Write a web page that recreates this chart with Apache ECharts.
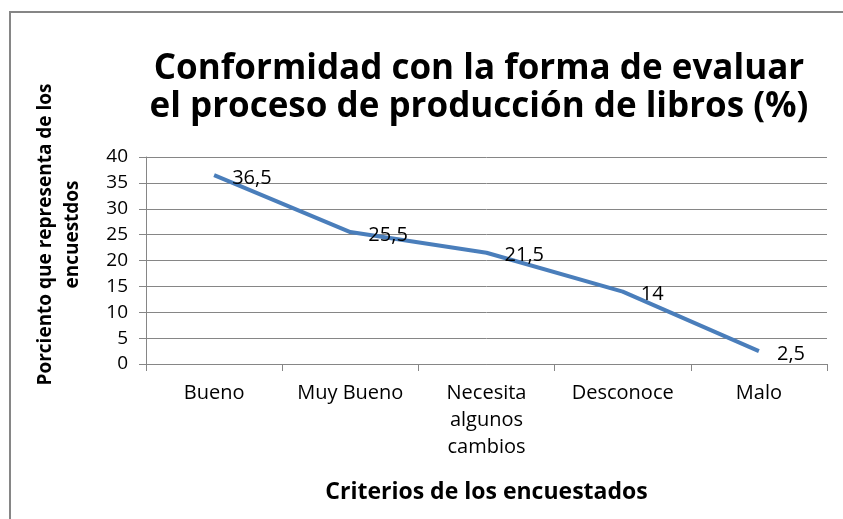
<!DOCTYPE html>
<html>
<head>
<meta charset="utf-8">
<script src="https://cdn.jsdelivr.net/npm/echarts@6/dist/echarts.min.js"></script>
<style>
  html, body { margin: 0; padding: 0; background: #fff; }
  #chart { width: 843px; height: 519px; }
</style>
</head>
<body>
<div id="chart"></div>
<script>
const categories = ['Bueno', 'Muy Bueno', 'Necesita\nalgunos\ncambios', 'Desconoce', 'Malo']
const values = [36.5, 25.5, 21.5, 14, 2.5]
const yTicks = [0, 5, 10, 15, 20, 25, 30, 35, 40]

const FONT = '"Open Sans", "Noto Sans", sans-serif'

const chart = echarts.init(document.getElementById('chart'))

const option = {
  animation: false,
  backgroundColor: '#fff',
  textStyle: { fontFamily: FONT },
  title: {
    text: 'Conformidad con la forma de evaluar\nel proceso de producción de libros (%)',
    left: 474,
    top: 45,
    textAlign: 'center',
    textStyle: {
      fontFamily: FONT,
      fontSize: 35,
      fontWeight: 'bold',
      lineHeight: 38,
      color: '#000'
    }
  },
  graphic: [
    {
      type: 'rect',
      shape: { x: 10, y: 12, width: 900, height: 600 },
      style: { fill: 'none', stroke: '#868686', lineWidth: 2 },
      silent: true
    }
  ],
  grid: {
    left: 146,
    right: 16,
    top: 157,
    bottom: 155
  },
  xAxis: {
    type: 'category',
    data: categories,
    boundaryGap: true,
    name: 'Criterios de los encuestados',
    nameLocation: 'middle',
    nameGap: 117,
    nameTextStyle: { fontFamily: FONT, fontSize: 23, fontWeight: 'bold', color: '#000' },
    axisLine: { lineStyle: { color: '#868686', width: 1 } },
    axisTick: { show: true, length: 7, lineStyle: { color: '#868686' } },
    axisLabel: { color: '#000', fontSize: 20, lineHeight: 27, margin: 16, interval: 0 }
  },
  yAxis: {
    type: 'value',
    min: yTicks[0],
    max: yTicks[yTicks.length - 1],
    interval: 5,
    name: 'Porciento que representa de los\nencuestdos',
    nameLocation: 'middle',
    nameGap: 60,
    nameTextStyle: {
      fontFamily: FONT, fontSize: 19, fontWeight: 'bold', color: '#000',
      lineHeight: 27, padding: [0, 0, 0, 52]
    },
    axisLine: { show: true, lineStyle: { color: '#868686', width: 1 } },
    axisTick: { show: true, length: 7, lineStyle: { color: '#868686' } },
    axisLabel: { color: '#000', fontSize: 19, margin: 18 },
    splitLine: { lineStyle: { color: '#868686', width: 1 } }
  },
  series: [
    {
      type: 'line',
      data: values,
      showSymbol: true,
      symbol: 'circle',
      symbolSize: 0.1,
      itemStyle: { color: '#4A7EBB' },
      lineStyle: { color: '#4A7EBB', width: 4 },
      label: {
        show: true,
        position: 'right',
        distance: 18,
        offset: [0, 3],
        color: '#000',
        fontSize: 20,
        formatter: p => String(p.value).replace('.', ',')
      }
    }
  ]
}

chart.setOption(option)
</script>
</body>
</html>
